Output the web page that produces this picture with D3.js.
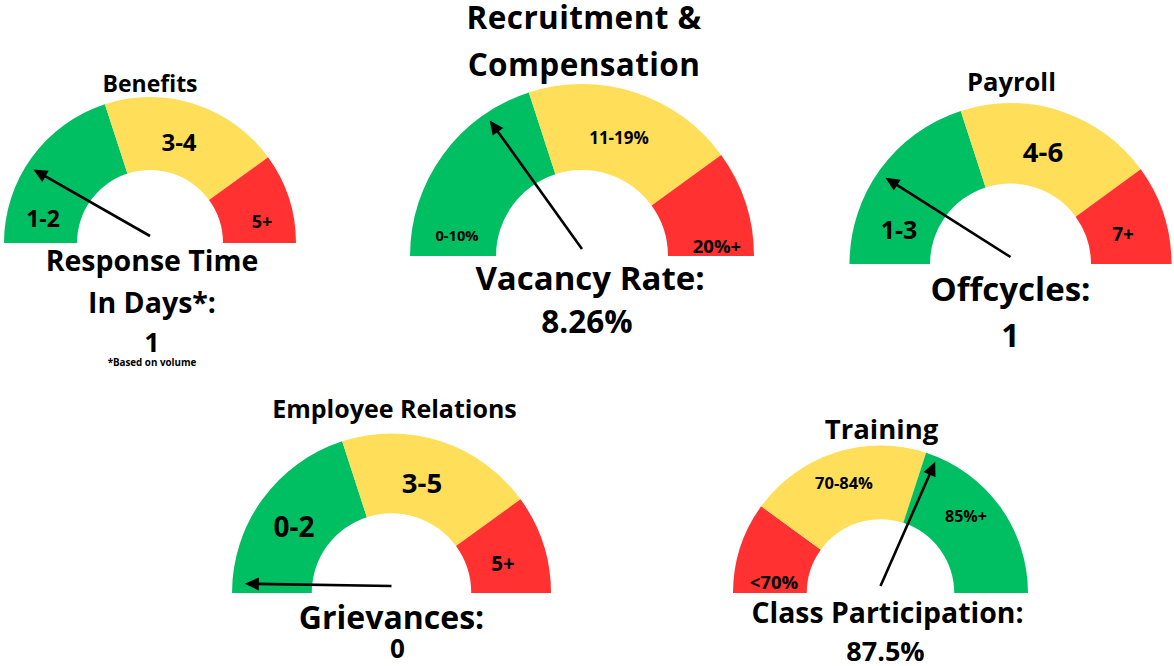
<!DOCTYPE html>
<html>
<head>
<meta charset="utf-8">
<script src="https://cdn.jsdelivr.net/npm/d3@7"></script>
<style>
  html, body { margin: 0; padding: 0; background: #ffffff; }
  svg { display: block; }
  text { font-family: "Open Sans", "Lato", sans-serif; font-weight: 700; fill: #000; }
</style>
</head>
<body>
<svg id="chart" width="1174" height="666"></svg>
<script>
// ---------------- DATA ----------------
const gaugeTitles = [["Benefits"], ["Recruitment &", "Compensation"], ["Payroll"], ["Employee Relations"], ["Training"]];
const segmentLabels = [
  ["1-2", "3-4", "5+"],
  ["0-10%", "11-19%", "20%+"],
  ["1-3", "4-6", "7+"],
  ["0-2", "3-5", "5+"],
  ["<70%", "70-84%", "85%+"]
];
// segment boundaries, in percent of the gauge sweep
const segmentBreaks = [
  [0, 40, 80, 100],
  [0, 40, 80, 100],
  [0, 40, 80, 100],
  [0, 40, 80, 100],
  [0, 20, 60, 100]
];
const segmentStatus = [
  ["good", "warn", "bad"],
  ["good", "warn", "bad"],
  ["good", "warn", "bad"],
  ["good", "warn", "bad"],
  ["bad", "warn", "good"]
];
// needle position, in percent of the gauge sweep
const needleValues = [16.5, 30.2, 18, 0.5, 63.2];
const metricNames = [["Response Time", "In Days*:"], ["Vacancy Rate:"], ["Offcycles:"], ["Grievances:"], ["Class Participation:"]];
const metricValues = ["1", "8.26%", "1", "0", "87.5%"];
const footnotes = ["*Based on volume", "", "", "", ""];

// ---------------- STYLE / LAYOUT ----------------
const statusColor = { good: "#00BF63", warn: "#FFDE59", bad: "#FF3131" };
const layout = [
  { cx: 150, cy: 243, R: 146,
    title: { dy: [-159], size: 23, dx: 0 },
    labels: [[-107, -24, 23], [29, -101, 24], [112, -21, 18]],
    metric: { dy: [18, 59.5], size: 28.5, dx: 2 },
    value: { dy: 99.5, size: 27, dx: 2 },
    foot: { dy: 119.5, size: 9.8, dx: 2 } },
  { cx: 582, cy: 256, R: 172,
    title: { dy: [-238, -191], size: 31.5, dx: 2, ls: 0.4 },
    labels: [[-125, -20, 14.7], [37, -118, 17], [135, -10, 18.5]],
    metric: { dy: [22], size: 33, dx: 8 },
    value: { dy: 65.5, size: 31.5, dx: 5 } },
  { cx: 1010.5, cy: 264, R: 161,
    title: { dy: [-182], size: 25.5, dx: 1 },
    labels: [[-111.5, -34, 25], [32.5, -112, 27.5], [112.5, -30, 19]],
    metric: { dy: [25.5], size: 33, dx: 0 },
    value: { dy: 71, size: 32, dx: 0 } },
  { cx: 391.5, cy: 593, R: 159.5,
    title: { dy: [-184.5], size: 25, dx: 3 },
    labels: [[-97.5, -66, 28], [30.5, -110, 27.5], [111.5, -29, 20.5]],
    metric: { dy: [24.5], size: 32, dx: 0 },
    value: { dy: 56, size: 26, dx: 6 } },
  { cx: 880.5, cy: 593, R: 147.5,
    title: { dy: [-164], size: 27.5, dx: 1 },
    labels: [[-106.5, -11, 18.5], [-36.5, -110, 16.5], [85.5, -77, 16]],
    metric: { dy: [19.5], size: 28.4, dx: 7 },
    value: { dy: 58.5, size: 27, dx: 5 } }
];

// ---------------- DRAW ----------------
const svg = d3.select("#chart");
const angle = d3.scaleLinear().domain([0, 100]).range([-Math.PI / 2, Math.PI / 2]);
const arc = d3.arc();
const CAP = 0.36; // half cap height in em, for vertical centring

gaugeTitles.forEach((title, i) => {
  const L = layout[i];
  const g = svg.append("g").attr("transform", `translate(${L.cx},${L.cy})`);
  const br = segmentBreaks[i];
  const segs = segmentLabels[i].map((lab, j) => ({
    label: lab, status: segmentStatus[i][j], from: br[j], to: br[j + 1]
  }));

  g.selectAll("path.seg").data(segs).join("path")
    .attr("class", "seg")
    .attr("d", d => arc({ innerRadius: L.R / 2, outerRadius: L.R,
                          startAngle: angle(d.from), endAngle: angle(d.to) }))
    .attr("fill", d => statusColor[d.status]);

  g.selectAll("text.seglab").data(segs).join("text")
    .attr("class", "seglab")
    .attr("text-anchor", "middle")
    .attr("x", (d, j) => L.labels[j][0])
    .attr("y", (d, j) => L.labels[j][1] + CAP * L.labels[j][2])
    .attr("font-size", (d, j) => L.labels[j][2])
    .text(d => d.label);

  // needle
  const a = angle(needleValues[i]);
  const pivotY = -7;
  const len = L.R * 0.92;
  const tipX = len * Math.sin(a), tipY = pivotY - len * Math.cos(a);
  const ux = Math.sin(a), uy = -Math.cos(a);
  const headLen = 14, headW = 6.5;
  const baseX = tipX - ux * headLen, baseY = tipY - uy * headLen;
  g.append("line")
    .attr("x1", 0).attr("y1", pivotY)
    .attr("x2", baseX + ux * 2).attr("y2", baseY + uy * 2)
    .attr("stroke", "#000").attr("stroke-width", 2.6);
  g.append("path")
    .attr("d", `M${tipX},${tipY}L${baseX - uy * headW},${baseY + ux * headW}L${baseX + uy * headW},${baseY - ux * headW}Z`)
    .attr("fill", "#000");

  // title
  g.selectAll("text.title").data(title).join("text")
    .attr("class", "title")
    .attr("text-anchor", "middle")
    .attr("x", L.title.dx)
    .attr("y", (d, k) => L.title.dy[k] + CAP * L.title.size)
    .attr("font-size", L.title.size)
    .attr("letter-spacing", L.title.ls || 0)
    .text(d => d);

  // metric name + value
  g.selectAll("text.metric").data(metricNames[i]).join("text")
    .attr("class", "metric")
    .attr("text-anchor", "middle")
    .attr("x", L.metric.dx)
    .attr("y", (d, k) => L.metric.dy[k] + CAP * L.metric.size)
    .attr("font-size", L.metric.size)
    .text(d => d);

  g.append("text")
    .attr("text-anchor", "middle")
    .attr("x", L.value.dx)
    .attr("y", L.value.dy + CAP * L.value.size)
    .attr("font-size", L.value.size)
    .text(metricValues[i]);

  if (footnotes[i]) {
    g.append("text")
      .attr("text-anchor", "middle")
      .attr("x", L.foot.dx)
      .attr("y", L.foot.dy + CAP * L.foot.size)
      .attr("font-size", L.foot.size)
      .text(footnotes[i]);
  }
});
</script>
</body>
</html>
